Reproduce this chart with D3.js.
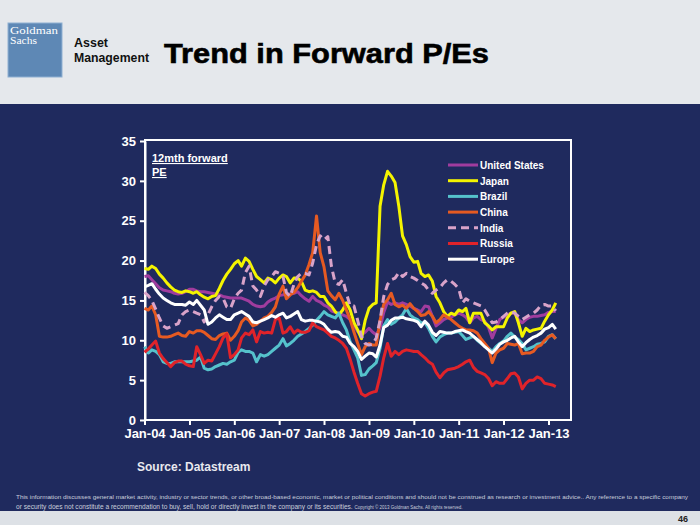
<!DOCTYPE html>
<html><head><meta charset="utf-8">
<script src="https://cdn.jsdelivr.net/npm/d3@7/dist/d3.min.js"></script>
<style>html,body{margin:0;padding:0;background:#1f2a5e;}svg{display:block;}</style>
</head><body>
<script>
// ---- DATA ----
const startMonth = new Date(2004, 0, 1);
const seriesNames = ["United States","Japan","Brazil","China","India","Russia","Europe"];
const usPE = [18.0,18.1,17.6,17.1,16.6,16.3,16.2,16.1,15.9,15.8,15.9,16.1,
16.4,16.4,16.2,16.1,16.1,16.0,15.9,15.8,15.7,15.5,15.4,15.3,
15.3,15.3,15.3,15.1,14.9,14.5,14.3,14.2,14.3,14.8,15.1,15.3,
15.6,15.7,15.7,15.8,15.9,16.1,15.6,15.2,14.9,15.5,15.0,14.8,
14.4,14.2,13.7,13.5,13.4,13.2,13.0,12.6,11.9,11.1,10.7,11.0,
11.5,11.0,10.7,11.5,13.5,14.8,14.5,14.7,14.5,14.7,14.5,14.3,
14.0,13.8,13.6,14.3,14.2,13.0,11.8,12.2,12.6,12.8,12.9,13.2,
13.4,13.2,12.9,12.2,12.8,13.0,12.6,12.4,11.6,10.3,11.5,12.6,
12.9,13.2,13.4,13.4,12.6,12.2,12.6,12.9,13.0,13.0,13.1,13.2,
13.5,13.6,13.6];
const japanPE = [19.0,18.9,19.3,19.0,18.3,17.8,17.2,16.7,16.3,16.1,16.0,16.2,
16.1,15.9,16.1,15.7,15.4,15.2,15.5,15.6,16.5,17.5,18.3,18.9,
19.6,20.0,19.3,20.3,19.9,18.9,18.0,17.6,17.2,17.8,17.6,17.2,
17.8,18.2,18.0,17.2,17.8,17.8,17.4,16.3,16.1,16.2,16.0,15.5,
15.5,14.7,14.3,13.6,13.2,13.8,14.7,13.8,12.2,11.3,10.2,12.5,
14.0,14.5,14.7,26.8,29.5,31.2,30.6,29.8,26.8,23.1,22.0,20.5,
19.8,19.9,18.4,18.0,18.2,17.4,15.5,14.7,13.6,13.0,13.4,13.2,
13.8,13.6,14.0,12.2,13.4,13.4,13.4,12.2,11.8,11.3,11.7,11.7,
11.7,12.8,13.4,13.6,12.2,10.5,11.5,11.1,11.3,11.4,11.5,12.4,
13.2,13.8,14.7];
const brazilPE = [9.2,8.4,8.8,8.6,8.2,7.3,7.1,7.1,7.3,7.3,7.3,7.3,
7.3,7.4,7.5,7.9,6.5,6.3,6.4,6.7,6.9,7.1,7.0,7.3,
7.5,8.5,8.8,8.6,8.6,8.4,7.3,8.2,8.0,8.2,8.6,9.0,
9.4,10.2,9.3,9.6,10.0,10.5,10.8,11.1,11.5,11.9,12.5,13.0,
13.6,13.2,13.0,12.8,13.4,12.2,11.3,9.8,8.8,7.8,5.6,5.7,
6.4,6.8,7.2,9.0,11.8,12.6,12.0,12.3,12.8,13.2,14.0,13.2,
12.8,12.6,12.2,12.2,11.5,10.5,9.8,10.4,10.7,10.9,10.9,11.0,
11.1,10.6,10.1,10.3,10.5,10.0,9.6,9.3,9.0,8.6,9.2,9.6,
9.9,10.5,10.9,10.4,10.1,9.6,8.8,9.0,9.2,9.5,9.6,9.8,
10.5,10.7,10.2];
const chinaPE = [14.0,13.8,14.3,13.2,10.5,10.4,10.4,10.5,10.7,10.9,10.6,10.5,
11.1,10.9,11.2,11.2,11.0,10.6,10.2,10.1,10.6,10.8,10.9,10.0,
10.5,11.2,12.3,12.8,12.5,11.8,12.0,12.4,12.8,13.0,13.5,14.2,
15.8,16.8,15.2,15.7,16.0,16.6,17.4,18.2,19.5,21.0,25.6,21.0,
19.2,16.2,15.6,15.1,15.9,15.0,13.8,12.6,11.0,9.6,8.2,9.2,
9.6,9.4,9.4,12.5,14.5,15.1,15.9,14.5,14.2,14.4,14.0,14.6,
14.0,13.6,13.1,13.2,13.6,13.0,12.2,12.6,13.2,12.9,12.6,12.2,
11.8,11.5,11.3,11.3,11.2,10.9,10.2,9.6,9.0,7.2,8.4,8.8,
9.0,9.6,9.5,9.4,9.6,8.3,8.4,8.4,8.6,9.2,9.4,10.0,
10.4,10.7,10.2];
const indiaPE = [16.0,15.6,15.0,13.9,12.8,11.8,11.5,11.7,11.9,12.1,13.2,13.6,
13.8,13.6,13.4,13.2,12.3,13.2,14.2,15.0,15.5,15.3,14.2,14.0,
15.2,15.9,16.3,18.5,19.3,16.8,16.3,15.5,16.8,17.6,18.0,18.6,
18.4,18.0,16.0,15.5,17.0,18.0,18.4,18.4,18.2,19.7,22.0,23.1,
22.6,23.0,19.3,17.2,17.0,17.6,15.9,14.3,14.3,12.5,10.5,9.6,
9.4,9.5,10.3,12.5,15.5,17.0,17.6,17.8,18.5,18.0,18.4,18.0,
17.8,17.5,17.2,16.9,16.3,15.9,16.3,16.6,17.2,17.6,17.4,17.0,
16.5,14.7,15.2,14.9,14.7,14.5,14.3,13.8,13.0,12.2,12.3,12.6,
13.0,13.4,13.6,13.4,13.0,12.6,12.9,13.2,13.4,13.8,14.4,14.5,
14.3,14.3,13.7];
const russiaPE = [8.5,8.9,9.4,9.9,8.4,7.7,7.2,6.7,7.2,7.4,7.4,7.0,
6.8,6.7,9.2,8.2,7.1,7.5,7.4,8.3,9.2,10.3,10.8,7.8,
8.2,8.8,10.3,10.9,10.7,11.3,9.8,11.1,10.9,11.0,10.9,12.6,
12.8,10.9,11.1,11.7,10.9,11.3,11.0,11.0,11.2,12.2,11.7,11.5,
11.3,10.9,10.5,10.3,10.0,9.6,9.0,7.6,6.0,4.6,3.3,3.0,
3.3,3.5,3.6,5.5,7.8,9.6,8.0,8.6,8.2,8.6,8.8,8.7,
8.6,8.6,8.2,7.8,7.3,7.0,6.0,5.3,5.9,6.3,6.4,6.5,
6.7,7.0,7.3,7.5,6.6,6.1,5.9,5.7,5.2,4.3,4.8,4.6,
4.6,5.2,5.8,5.9,5.4,3.9,4.6,5.0,5.0,5.4,5.2,4.6,
4.5,4.4,4.2];
const europePE = [16.7,16.9,17.1,16.4,15.8,15.3,15.0,14.7,14.5,14.5,14.5,14.4,
14.8,14.5,15.0,14.4,13.8,12.0,12.3,12.8,13.2,12.9,12.6,12.6,
13.2,13.4,13.6,13.3,13.0,12.3,12.2,12.4,12.6,12.8,13.1,12.9,
13.2,13.4,12.8,13.0,13.3,13.6,12.6,12.4,12.5,12.5,12.4,12.3,
12.0,11.4,11.0,11.1,11.0,10.5,10.4,9.6,9.2,8.6,7.6,8.0,
8.4,8.3,7.9,9.4,11.6,11.9,12.5,12.8,12.8,12.9,12.7,12.6,
12.5,12.3,11.7,12.4,11.9,11.0,10.6,11.1,11.0,10.9,10.9,11.1,
11.2,11.3,11.1,10.9,10.5,10.1,9.7,9.2,8.8,8.4,8.9,9.5,
9.8,10.0,10.3,10.5,9.8,9.2,9.7,10.1,10.4,10.6,10.9,11.4,
11.6,12.0,11.4];
const yTicks = [0,5,10,15,20,25,30,35];
const xTickYears = [2004,2005,2006,2007,2008,2009,2010,2011,2012,2013];

const seriesValues = [usPE, japanPE, brazilPE, chinaPE, indiaPE, russiaPE, europePE];
const seriesColors = ["#a03c9e","#f4f400","#55c2cc","#e65a22","#d9a3c9","#e0232a","#ffffff"];

// ---- CHART ----
const W = 700, H = 525;
const navy = "#1f2a5e";
const svg = d3.select("body").append("svg").attr("width", W).attr("height", H);
const FF = "'Liberation Sans', Arial, Helvetica, sans-serif";

svg.append("rect").attr("width", W).attr("height", H).attr("fill", navy);
svg.append("rect").attr("width", W).attr("height", 104).attr("fill", "#e5e8ec");
svg.append("rect").attr("y", 511).attr("width", W).attr("height", 14).attr("fill", "#dde1e6");

// logo
svg.append("rect").attr("x", 8).attr("y", 23).attr("width", 54).attr("height", 54)
  .attr("fill", "#5e88b5").attr("stroke", "#8fb0d2").attr("stroke-width", 1);
svg.append("text").attr("x", 10).attr("y", 34).attr("fill", "#fff")
  .attr("font-family", "'Liberation Serif', 'DejaVu Serif', serif").attr("font-size", 10.5)
  .attr("textLength", 48).attr("lengthAdjust", "spacingAndGlyphs").text("Goldman");
svg.append("text").attr("x", 10).attr("y", 44).attr("fill", "#fff")
  .attr("font-family", "'Liberation Serif', 'DejaVu Serif', serif").attr("font-size", 10.5)
  .attr("textLength", 27).attr("lengthAdjust", "spacingAndGlyphs").text("Sachs");
svg.append("text").attr("x", 74).attr("y", 47).attr("fill", "#111")
  .attr("font-family", FF).attr("font-weight", "bold").attr("font-size", 13)
  .attr("textLength", 34).attr("lengthAdjust", "spacingAndGlyphs").text("Asset");
svg.append("text").attr("x", 74).attr("y", 62).attr("fill", "#111")
  .attr("font-family", FF).attr("font-weight", "bold").attr("font-size", 13)
  .attr("textLength", 75).attr("lengthAdjust", "spacingAndGlyphs").text("Management");
svg.append("text").attr("x", 164).attr("y", 63).attr("fill", "#000")
  .attr("font-family", FF).attr("font-weight", "bold").attr("font-size", 28)
  .attr("stroke", "#000").attr("stroke-width", 0.6)
  .attr("textLength", 325).attr("lengthAdjust", "spacingAndGlyphs").text("Trend in Forward P/Es");

// scales
const plot = {l: 145, r: 571, t: 141, b: 420};
const x = d3.scaleTime().domain([new Date(2004,0,1), new Date(2013,0,1)]).range([144.5, 548.5]);
const y = d3.scaleLinear().domain([0, 35]).range([plot.b, plot.t]);

const dates = usPE.map((_, i) => d3.timeMonth.offset(startMonth, i));

// frame
svg.append("rect").attr("x", plot.l).attr("y", plot.t - 1).attr("width", plot.r - plot.l)
  .attr("height", plot.b - plot.t + 1).attr("fill", "none").attr("stroke", "#fff").attr("stroke-width", 2);

// y axis
const yAxis = d3.axisLeft(y).tickValues(yTicks).tickSize(5).tickSizeOuter(0).tickPadding(4);
const gy = svg.append("g").attr("transform", `translate(${plot.l},0)`).call(yAxis);
gy.select(".domain").attr("stroke", "#fff").attr("stroke-width", 2);
gy.selectAll(".tick line").attr("stroke", "#fff").attr("stroke-width", 2);
gy.selectAll(".tick text").attr("fill", "#fff").attr("font-family", FF)
  .attr("font-weight", "bold").attr("font-size", 13);

// x axis
const xAxis = d3.axisBottom(x).tickValues(xTickYears.map(yr => new Date(yr,0,1)))
  .tickFormat(d3.timeFormat("%b-%y")).tickSize(5).tickSizeOuter(0).tickPadding(4);
const gx = svg.append("g").attr("transform", `translate(0,${plot.b})`).call(xAxis);
gx.select(".domain").remove();
gx.selectAll(".tick line").attr("stroke", "#fff").attr("stroke-width", 2);
gx.selectAll(".tick text").attr("fill", "#fff").attr("font-family", FF)
  .attr("font-weight", "bold").attr("font-size", 13);

// lines
const line = d3.line().x((d, i) => x(dates[i])).y(d => y(d)).curve(d3.curveLinear);
seriesValues.forEach((vals, si) => {
  svg.append("path").datum(vals).attr("d", line)
    .attr("fill", "none").attr("stroke", seriesColors[si]).attr("stroke-width", 3)
    .attr("stroke-linejoin", "round")
    .attr("stroke-dasharray", seriesNames[si] === "India" ? "8,5" : null);
});

// label in plot
[["12mth forward", 162], ["PE", 176]].forEach(([t, yy]) => {
  svg.append("text").attr("x", 152).attr("y", yy).attr("fill", "#fff")
    .attr("font-family", FF).attr("font-weight", "bold").attr("font-size", 11)
    .attr("text-decoration", "underline").text(t);
});

// legend
seriesNames.forEach((n, i) => {
  const ly = 165 + i * 15.7;
  svg.append("line").attr("x1", 448).attr("x2", 478).attr("y1", ly).attr("y2", ly)
    .attr("stroke", seriesColors[i]).attr("stroke-width", 3)
    .attr("stroke-dasharray", n === "India" ? "8,5" : null);
  svg.append("text").attr("x", 480).attr("y", ly + 3.8).attr("fill", "#fff")
    .attr("font-family", FF).attr("font-weight", "bold").attr("font-size", 10).text(n);
});

// source
svg.append("text").attr("x", 137).attr("y", 471).attr("fill", "#e8e8ee")
  .attr("font-family", FF).attr("font-weight", "bold").attr("font-size", 12).text("Source: Datastream");

// footer
svg.append("text").attr("x", 16).attr("y", 499).attr("fill", "#c9cedb")
  .attr("font-family", FF).attr("font-size", 6.2)
  .attr("textLength", 672).attr("lengthAdjust", "spacingAndGlyphs")
  .text("This information discusses general market activity, industry or sector trends, or other broad-based economic, market or political conditions and should not be construed as research or investment advice.. Any reference to a specific company");
const f2 = svg.append("text").attr("x", 16).attr("y", 509).attr("fill", "#c9cedb")
  .attr("font-family", FF).attr("font-size", 6.6);
f2.append("tspan").text("or security does not constitute a recommendation to buy, sell, hold or directly invest in the company or its securities. ");
f2.append("tspan").attr("font-size", 4.5).text("Copyright © 2013 Goldman Sachs. All rights reserved.");

svg.append("text").attr("x", 683).attr("y", 522).attr("fill", "#222")
  .attr("font-family", FF).attr("font-weight", "bold").attr("font-size", 9)
  .attr("text-anchor", "middle").text("46");
</script>
</body></html>
